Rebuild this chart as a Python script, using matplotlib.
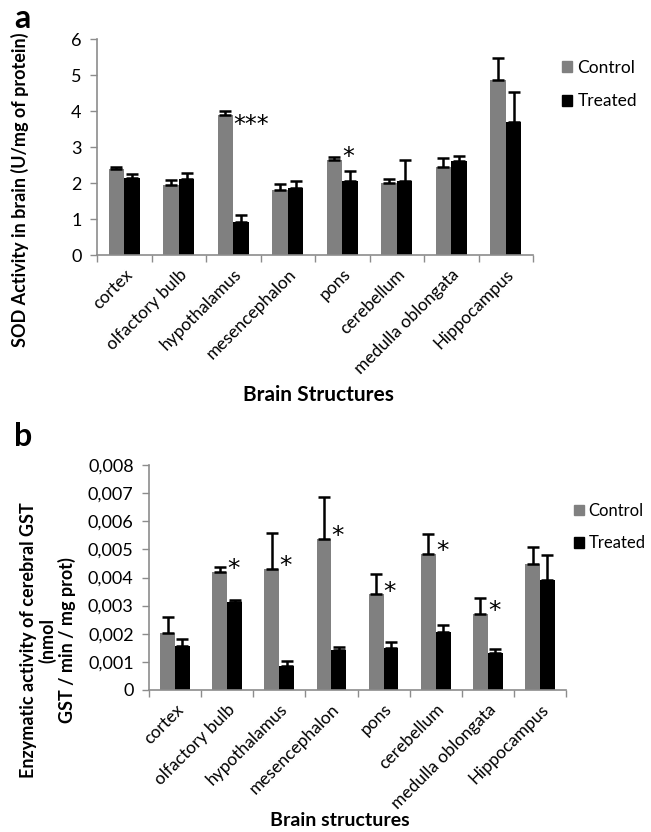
import numpy as np
import matplotlib
matplotlib.use("Agg")
import matplotlib.pyplot as plt
from matplotlib.patches import Patch
from matplotlib.ticker import FixedLocator, FuncFormatter

plt.rcParams["font.family"] = ["Lato", "DejaVu Sans"]

structures_a = ["cortex", "olfactory bulb", "hypothalamus", "mesencephalon",
                "pons", "cerebellum", "medulla oblongata", "Hippocampus"]
structures_b = ["cortex", "olfactory bulb", "hypothalamus", "mesencephalon",
                "pons", "cerebellum", "medulla oblongata", "Hippocampus"]

# SOD activity (U/mg of protein)
sod_control = [2.40, 1.95, 3.90, 1.80, 2.65, 2.00, 2.45, 4.85]
sod_control_err = [0.05, 0.12, 0.10, 0.18, 0.07, 0.10, 0.25, 0.63]
sod_treated = [2.15, 2.12, 0.93, 1.85, 2.05, 2.05, 2.62, 3.70]
sod_treated_err = [0.10, 0.15, 0.18, 0.20, 0.27, 0.60, 0.12, 0.83]
sod_marks = ["", "", "***", "", "*", "", "", ""]

# GST activity (nmol GST / min / mg prot)
gst_control = [0.00203, 0.00420, 0.00432, 0.00538, 0.00340, 0.00484, 0.00270, 0.00447]
gst_control_err = [0.00055, 0.00017, 0.00125, 0.00150, 0.00072, 0.00070, 0.00058, 0.00060]
gst_treated = [0.00156, 0.00314, 0.00086, 0.00144, 0.00149, 0.00205, 0.00130, 0.00390]
gst_treated_err = [0.00027, 0.00006, 0.00017, 0.00010, 0.00022, 0.00025, 0.00017, 0.00090]
gst_marks = ["", "*", "*", "*", "*", "*", "*", ""]

sod_ticks = [0, 1, 2, 3, 4, 5, 6]
gst_ticks = [0, 0.001, 0.002, 0.003, 0.004, 0.005, 0.006, 0.007, 0.008]

CONTROL = "#808080"
TREATED = "#000000"
AXIS = "#8c8c8c"

W, H = 651, 832
fig = plt.figure(figsize=(W / 100, H / 100), dpi=100)


def box(left, top, right, bottom):
    return [left / W, 1 - bottom / H, (right - left) / W, (bottom - top) / H]


def bar_panel(ax, cats, ctrl, ctrl_err, trt, trt_err, ticks, fmt, ymax,
              marks, mark_off, mark_clear, mark_size, tick_fs, cat_fs):
    x = np.arange(len(cats))
    w = 0.285
    ekw = dict(ecolor="black", elinewidth=1.8, capsize=4.5, capthick=1.8)
    ax.bar(x - w / 2, ctrl, w, color=CONTROL, zorder=2,
           yerr=[np.zeros(len(ctrl)), ctrl_err], error_kw=ekw)
    ax.bar(x + w / 2, trt, w, color=TREATED, zorder=2,
           yerr=[np.zeros(len(trt)), trt_err], error_kw=ekw)
    for i, m in enumerate(marks):
        if m:
            y = max(ctrl[i] + mark_off, trt[i] + trt_err[i] + mark_clear)
            ax.text(x[i] + w / 2 - 0.14, y, m, ha="left", va="center",
                    fontsize=mark_size, color="black", family="DejaVu Sans")
    ax.set_xlim(-0.5, len(cats) - 0.5)
    ax.set_ylim(0, ymax)
    ax.yaxis.set_major_locator(FixedLocator(ticks))
    ax.yaxis.set_major_formatter(FuncFormatter(fmt))
    ax.xaxis.set_major_locator(FixedLocator(np.arange(-0.5, len(cats), 1.0)))
    ax.xaxis.set_major_formatter(FuncFormatter(lambda v, p: ""))
    ax.xaxis.set_minor_locator(FixedLocator(x))
    ax.set_xticklabels(cats, minor=True, rotation=45, ha="right",
                       rotation_mode="anchor", fontsize=cat_fs)
    ax.tick_params(axis="x", which="minor", length=0, pad=8)
    ax.tick_params(axis="x", which="major", length=5, color=AXIS, width=1)
    ax.tick_params(axis="y", length=5, color=AXIS, width=1, labelsize=tick_fs,
                   pad=6)
    for s in ("top", "right"):
        ax.spines[s].set_visible(False)
    for s in ("left", "bottom"):
        ax.spines[s].set_color(AXIS)
        ax.spines[s].set_linewidth(1.2)


# ---- panel a: SOD ----
ax1 = fig.add_axes(box(97, 39, 533, 255))
bar_panel(ax1, structures_a, sod_control, sod_control_err, sod_treated,
          sod_treated_err, sod_ticks, lambda v, p: f"{v:g}", 6,
          sod_marks, -0.28, 0.40, 17, 13, 12.5)
ax1.set_ylabel("SOD Activity in brain (U/mg of protein)", fontsize=13,
               fontweight="bold")
ax1.yaxis.set_label_coords(-0.155, 0.30)
fig.text(318 / W, 1 - 395 / H, "Brain Structures", ha="center", va="center",
         fontsize=15, fontweight="bold")
fig.text(14 / W, 1 - 18 / H, "a", ha="left", va="center", fontsize=23,
         fontweight="bold")
handles = [Patch(color=CONTROL, label="Control"),
           Patch(color=TREATED, label="Treated")]
fig.legend(handles=handles, loc="upper left",
           bbox_to_anchor=(555 / W, 1 - 53 / H), frameon=False, fontsize=12.5,
           handlelength=0.6, handleheight=0.6, handletextpad=0.3,
           labelspacing=1.0, borderaxespad=0)

# ---- panel b: GST ----
ax2 = fig.add_axes(box(149, 465, 566, 690))
bar_panel(ax2, structures_b, gst_control, gst_control_err, gst_treated,
          gst_treated_err, gst_ticks,
          lambda v, p: "0" if v == 0 else f"{v:.3f}".replace(".", ","),
          0.008, gst_marks, 0.00010, 0.0, 18, 13, 12.5)
ax2.set_ylabel("Enzymatic activity of cerebral GST\n(nmol\nGST / min / mg prot)",
               fontsize=13, fontweight="bold", linespacing=1.1)
ax2.yaxis.set_label_coords(-0.175, 0.22)
fig.text(340 / W, 1 - 820 / H, "Brain structures", ha="center", va="center",
         fontsize=14, fontweight="bold")
fig.text(14 / W, 1 - 437 / H, "b", ha="left", va="center", fontsize=23,
         fontweight="bold")
fig.legend(handles=handles, loc="upper left",
           bbox_to_anchor=(567 / W, 1 - 496 / H), frameon=False, fontsize=12,
           handlelength=0.6, handleheight=0.6, handletextpad=0.3,
           labelspacing=1.0, borderaxespad=0)

fig.savefig("out.png", dpi=100)
